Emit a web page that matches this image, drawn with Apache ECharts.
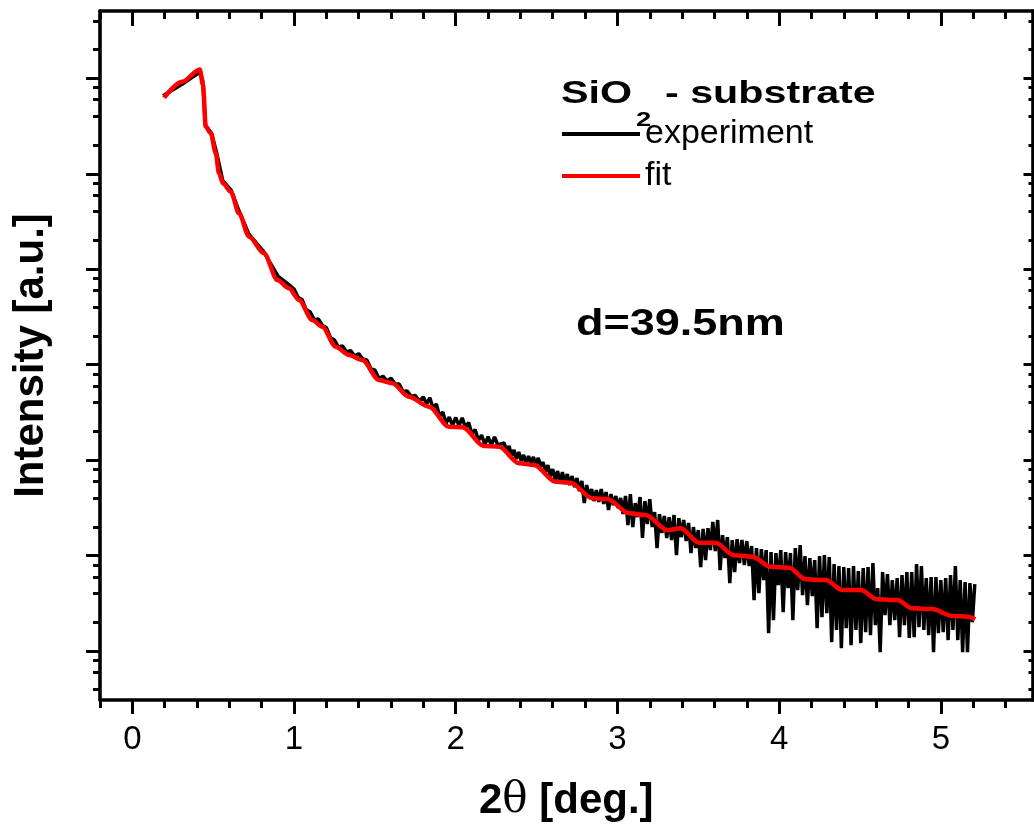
<!DOCTYPE html>
<html>
<head>
<meta charset="utf-8">
<script src="https://cdn.jsdelivr.net/npm/echarts@6/dist/echarts.min.js"></script>
<style>
html,body{margin:0;padding:0;background:#fff;overflow:hidden;}
#chart{width:1034px;height:834px;}
</style>
</head>
<body>
<div id="chart"></div>
<script>
// ---- data ----
const fitX = [0.196,0.309,0.417,0.437,0.454,0.485,0.516,0.536,0.561,0.609,0.660,0.722,0.814,0.897,0.969,1.031,1.113,1.175,1.258,1.340,1.422,1.526,1.608,1.711,1.835,1.958,2.041,2.175,2.268,2.391,2.484,2.618,2.711,2.845,2.938,3.072,3.175,3.309,3.391,3.505,3.608,3.721,3.834,3.948,4.061,4.165,4.288,4.391,4.505,4.607,4.731,4.824,4.947,5.071,5.174,5.212];
const fitY = [6.27e6,9.2e6,1.24e7,8.51e6,3.11e6,2.66e6,1.64e6,1.01e6,7.94e5,6.49e5,3.85e5,2.19e5,1.47e5,7.71e4,6.31e4,4.75e4,2.94e4,2.50e4,1.54e4,1.26e4,1.12e4,6900,6380,4610,3620,2240,2210,1410,1380,927,889,594,581,398,392,277,266,185,193,136,136,101,97.3,76.4,74.6,56.4,55.5,43.6,43.6,34.8,34.2,28.0,27.5,23.3,22.9,21.5];

const expX = [0.19,0.31,0.40,0.42,0.435,0.452,0.49,0.52,0.56,0.61,0.66,0.72,0.81,0.90,0.97,
1.000,1.025,1.050,1.075,1.100,1.125,1.150,1.175,1.200,1.225,
1.250,1.275,1.300,1.325,1.350,1.375,1.400,1.425,1.450,1.475,
1.500,1.525,1.550,1.575,1.600,1.625,1.650,1.675,1.700,1.725,
1.750,1.775,1.800,1.820,1.840,1.860,1.880,1.900,1.920,1.940,
1.960,1.980,2.000,2.020,2.040,2.060,2.080,2.100,2.120,2.140,
2.160,2.180,2.200,2.220,2.240,2.260,
2.300,2.315,2.330,2.345,2.360,2.375,2.390,2.405,2.420,2.435,
2.450,2.465,2.480,2.495,2.510,2.525,2.540,2.555,2.570,2.585,
2.600,2.615,2.630,2.645,2.660,2.675,2.690,2.705,2.720,2.735,
2.750,2.765,2.780,2.795,2.810,2.825,2.840,2.855,2.870,2.885,
2.900,2.915,2.930,2.945,2.960,2.975,2.990,3.005,3.020,3.035,
3.050,3.065,3.080,3.095,3.110,3.125,3.140,3.155,3.170,3.185,
3.200,3.215,3.230,3.245,3.260,3.275,3.290,3.305,3.320,3.335,
3.350,3.365,3.380,3.395,3.410,3.425,3.440,3.455,3.470,3.485,
3.500,3.515,3.530,3.545,3.560,3.575,3.590,3.605,3.620,3.635,
3.650,3.665,3.680,3.695,3.710,3.725,3.740,3.755,3.770,3.785,
3.800,3.815,3.830,3.845,3.860,3.875,3.890,3.905,3.920,3.935,
3.950,3.965,3.980,3.995,4.010,4.025,4.040,4.055,4.070,4.085,
4.100,4.115,4.130,4.145,4.160,4.175,4.190,4.205,4.220,4.235,
4.250,4.265,4.280,4.295,4.310,4.325,4.340,4.355,4.370,4.385,
4.400,4.415,4.430,4.445,4.460,4.475,4.490,4.505,4.520,4.535,
4.550,4.565,4.580,4.595,4.610,4.625,4.640,4.655,4.670,4.685,
4.700,4.715,4.730,4.745,4.760,4.775,4.790,4.805,4.820,4.835,
4.850,4.865,4.880,4.895,4.910,4.925,4.940,4.955,4.970,4.985,
5.000,5.015,5.030,5.045,5.060,5.075,5.090,5.105,5.120,5.135,
5.150,5.165,5.180,5.195,5.210];
const expY = [6.55e6,8.71e6,1.11e7,1.14e7,9.6e6,3.24e6,2.66e6,1.69e6,8.39e5,6.76e5,4.07e5,2.34e5,1.55e5,8.49e4,6.84e4,
6.20e4,5.08e4,4.79e4,3.78e4,3.56e4,2.95e4,3.01e4,2.59e4,2.44e4,1.925e4,
1.813e4,1.531e4,1.569e4,1.357e4,1.404e4,1.232e4,1.305e4,1.146e4,1.119e4,9113,
8789,7159,7567,6741,7196,6269,6269,5232,5296,4637,
4750,4161,4582,3871,4504,3473,3871,2897,3191,2418,
2828,2310,2794,2299,2775,2195,2477,1877,2092,1604,
1832,1457,1758,1440,1746,1440,
1511,1216,1406,1104,1276,1027,1216,978,1131,932,
1104,932,1078,910,1052,867,955,750,888,681,
806,619,768,576,750,562,715,548,681,522,
649,474,604,355,548,401,498,373,486,364,
498,347,463,300,441,338,421,314,401,272,
421,209,441,199,355,253,411,153,373,214,
391,199,286,120,272,172,260,153,253,145.5,
266,101.3,247,156,236,142,220,106.3,199,120,
185,75.8,190,89.8,194,114.3,225,111.6,236,70.5,
164,94.2,156,51.5,145.5,67.2,149,83.5,145.5,79.6,
142,77.7,125.9,34.2,120,40.5,117.1,55.4,114.3,15.4,
108.9,21.1,106.3,49.1,114.3,25.6,108.9,45.7,106.3,21.1,
120,43.5,129,38.6,98.9,30.3,94.2,37.7,89.8,17.4,
98.9,22.7,101.3,25.0,96.5,12.4,81.5,16.6,77.7,10.7,
75.8,17.4,74.0,11.5,77.7,16.6,68.8,12.1,74.0,15.8,
75.8,14.7,83.5,18.7,45.7,9.75,67.2,23.8,64.0,18.7,
55.4,21.1,58.1,14.0,62.5,18.7,67.2,13.7,67.2,14.0,
81.5,17.8,77.7,16.6,58.1,14.7,59.6,9.75,59.6,15.4,
55.4,15.8,58.1,13.0,62.5,16.6,77.7,13.0,55.4,9.75,
52.8,9.75,51.5,20.1,50.3];

const xMajorTicks = [0,1,2,3,4,5];
const xMinorTicks = [-0.2,0.2,0.4,0.6,0.8,1.2,1.4,1.6,1.8,2.2,2.4,2.6,2.8,3.2,3.4,3.6,3.8,4.2,4.4,4.6,4.8,5.2,5.4];
const yMajorTicks = [1e1,1e2,1e3,1e4,1e5,1e6,1e7];
const yMinorTicks = [4,6,8,20,40,60,80,200,400,600,800,2e3,4e3,6e3,8e3,2e4,4e4,6e4,8e4,2e5,4e5,6e5,8e5,2e6,4e6,6e6,8e6,2e7,4e7];
const seriesNames = ['experiment','fit'];
const titleParts = ['SiO','2','- substrate'];
const noteText = 'd=39.5nm';
const xNameParts = ['2','θ',' [deg.]'];
const yName = 'Intensity [a.u.]';

// ---- chart ----
const FONT = 'Liberation Sans, Arial, Helvetica, sans-serif';
const X_MIN = -0.2, X_MAX = 5.567, Y_MIN = 3.07, Y_MAX = 5.07e7;
const chart = echarts.init(document.getElementById('chart'));

function xAx(pos, ticks, len, inside, extra) {
  return Object.assign({
    type: 'value', position: pos, min: X_MIN, max: X_MAX,
    axisLine: {show: false, onZero: false},
    axisTick: {show: true, customValues: ticks, length: len, inside: inside, lineStyle: {color: '#000', width: 3}},
    axisLabel: {show: false},
    splitLine: {show: false}
  }, extra || {});
}
function yAx(pos, ticks, len, inside, extra) {
  return Object.assign({
    type: 'log', logBase: 10, position: pos, min: Y_MIN, max: Y_MAX,
    axisLine: {show: false, onZero: false},
    axisTick: {show: true, customValues: ticks, length: len, inside: inside, lineStyle: {color: '#000', width: 3}},
    axisLabel: {show: false},
    splitLine: {show: false}
  }, extra || {});
}
const lineStyleAxis = {show: true, onZero: false, lineStyle: {color: '#000', width: 3.6}};

chart.setOption({
  animation: false,
  backgroundColor: '#fff',
  grid: {left: 100, right: 1.5, top: 11, bottom: 134, containLabel: false, outerBoundsMode: 'none'},
  xAxis: [
    xAx('bottom', xMajorTicks, 14, false, {
      axisLine: lineStyleAxis,
      axisLabel: {show: true, customValues: xMajorTicks, fontSize: 33, color: '#000', fontFamily: FONT, margin: 23},
      name: '{b|' + xNameParts[0] + '}{t|' + xNameParts[1] + '}{b|' + xNameParts[2] + '}',
      nameLocation: 'middle', nameGap: 80,
      nameTextStyle: {
        fontSize: 42, fontWeight: 'bold', color: '#000', fontFamily: FONT,
        rich: {
          b: {fontSize: 42, fontWeight: 'bold', color: '#000', fontFamily: FONT},
          t: {fontSize: 42, fontWeight: 'normal', color: '#000', fontFamily: 'DejaVu Serif, serif'}
        }
      }
    }),
    xAx('bottom', xMinorTicks, 8, false),
    xAx('top', xMajorTicks, 15, true, {axisLine: lineStyleAxis}),
    xAx('top', xMinorTicks, 8, true)
  ],
  yAxis: [
    yAx('left', yMajorTicks, 14, false, {
      axisLine: lineStyleAxis,
      name: yName, nameLocation: 'middle', nameGap: 48,
      nameTextStyle: {fontSize: 42, fontWeight: 'bold', color: '#000', fontFamily: FONT}
    }),
    yAx('left', yMinorTicks, 7, false),
    yAx('right', yMajorTicks, 9, true, {axisLine: lineStyleAxis}),
    yAx('right', yMinorTicks, 4, true)
  ],
  legend: {
    orient: 'vertical', left: 562, top: 117, padding: 0,
    icon: 'rect', itemWidth: 78, itemHeight: 4, itemGap: 8,
    data: seriesNames,
    textStyle: {fontSize: 34, color: '#000', fontFamily: FONT},
    selectedMode: false
  },
  graphic: {elements: [
    {type: 'text', x: 561, y: 94, scaleX: 1.33, style: {text: titleParts[0], fontSize: 31, fontWeight: 'bold', fontFamily: FONT, fill: '#000', verticalAlign: 'middle', align: 'left'}},
    {type: 'text', x: 636, y: 120, scaleX: 1.3, style: {text: titleParts[1], fontSize: 21, fontWeight: 'bold', fontFamily: FONT, fill: '#000', verticalAlign: 'middle', align: 'left'}},
    {type: 'text', x: 665, y: 94, scaleX: 1.33, style: {text: titleParts[2], fontSize: 31, fontWeight: 'bold', fontFamily: FONT, fill: '#000', verticalAlign: 'middle', align: 'left'}},
    {type: 'text', x: 576, y: 325, scaleX: 1.25, style: {text: noteText, fontSize: 36, fontWeight: 'bold', fontFamily: FONT, fill: '#000', verticalAlign: 'middle', align: 'left'}}
  ]},
  series: [
    {
      name: seriesNames[0], type: 'line', xAxisIndex: 0, yAxisIndex: 0,
      data: expX.map((x, i) => [x, expY[i]]),
      showSymbol: false, symbol: 'none', sampling: null,
      lineStyle: {color: '#000', width: 3.5},
      itemStyle: {color: '#000'},
      emphasis: {disabled: true}, silent: true
    },
    {
      name: seriesNames[1], type: 'line', xAxisIndex: 0, yAxisIndex: 0,
      data: fitX.map((x, i) => [x, fitY[i]]),
      showSymbol: false, symbol: 'none', smooth: 0.3, smoothMonotone: 'x',
      lineStyle: {color: '#ff0000', width: 4.5},
      itemStyle: {color: '#ff0000'},
      emphasis: {disabled: true}, silent: true
    }
  ]
});
</script>
</body>
</html>
